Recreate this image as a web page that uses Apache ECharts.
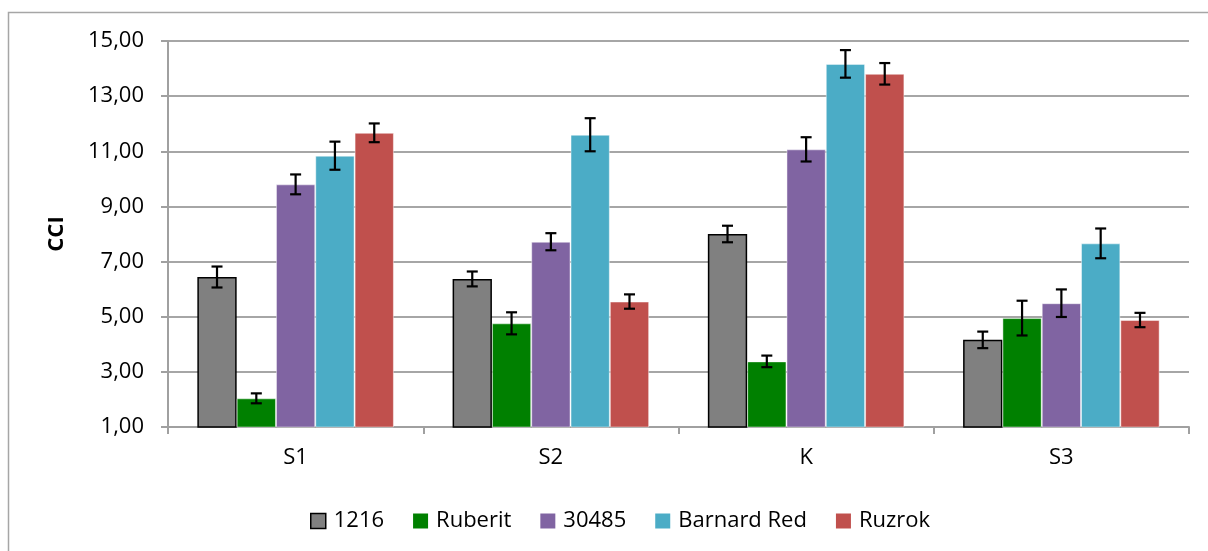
<!DOCTYPE html>
<html>
<head>
<meta charset="utf-8">
<script src="https://cdn.jsdelivr.net/npm/echarts@6/dist/echarts.min.js"></script>
<style>html,body{margin:0;padding:0;background:#fff}#c{width:1208px;height:551px}</style>
</head>
<body>
<div id="c"></div>
<script>
const categories = ['S1', 'S2', 'K', 'S3'];
const seriesNames = ['1216', 'Ruberit', '30485', 'Barnard Red', 'Ruzrok'];
const v1216 = [6.44, 6.37, 8.00, 4.16];
const vRuberit = [2.04, 4.76, 3.38, 4.95];
const v30485 = [9.80, 7.72, 11.07, 5.49];
const vBarnard = [10.84, 11.60, 14.17, 7.66];
const vRuzrok = [11.67, 5.55, 13.81, 4.88];
const e1216 = [0.38, 0.27, 0.30, 0.30];
const eRuberit = [0.18, 0.40, 0.21, 0.63];
const e30485 = [0.36, 0.31, 0.44, 0.50];
const eBarnard = [0.51, 0.60, 0.50, 0.54];
const eRuzrok = [0.34, 0.26, 0.39, 0.26];
const yTicks = [1, 3, 5, 7, 9, 11, 13, 15];

const values = [v1216, vRuberit, v30485, vBarnard, vRuzrok];
const errors = [e1216, eRuberit, e30485, eBarnard, eRuzrok];
const colors = ['#808080', '#008000', '#8064A2', '#4BACC6', '#C0504D'];
const gapFrac = 0.23;
const FONT = 'Open Sans';
const FS = 22;

const chart = echarts.init(document.getElementById('c'), null, {renderer: 'canvas'});

const series = [];
seriesNames.forEach((name, i) => {
  series.push({
    name: name,
    type: 'bar',
    data: values[i],
    barGap: '0%',
    barCategoryGap: (gapFrac * 100) + '%',
    itemStyle: i === 0
      ? {color: colors[i], borderColor: '#000', borderWidth: 1.5}
      : {color: colors[i], borderColor: 'rgba(255,255,255,0.45)', borderWidth: 1},
    emphasis: {disabled: true},
    z: 2
  });
});
seriesNames.forEach((name, i) => {
  const data = values[i].map((v, k) => [k, v, errors[i][k]]);
  series.push({
    type: 'custom',
    name: name + ' err',
    data: data,
    z: 5,
    silent: true,
    renderItem: function (params, api) {
      const k = api.value(0), v = api.value(1), e = api.value(2);
      const band = api.size([1, 0])[0];
      const bw = band * (1 - gapFrac) / 5;
      const off = (i - 2) * bw;
      const top = api.coord([k, v + e]);
      const bot = api.coord([k, v - e]);
      const x = top[0] + off;
      const cap = 5.5;
      const st = {stroke: '#000', lineWidth: 2.2};
      return {
        type: 'group',
        children: [
          {type: 'line', shape: {x1: x, y1: top[1], x2: x, y2: bot[1]}, style: st},
          {type: 'line', shape: {x1: x - cap, y1: top[1], x2: x + cap, y2: top[1]}, style: st},
          {type: 'line', shape: {x1: x - cap, y1: bot[1], x2: x + cap, y2: bot[1]}, style: st}
        ]
      };
    }
  });
});

chart.setOption({
  animation: false,
  backgroundColor: '#fff',
  textStyle: {fontFamily: FONT},
  graphic: [{
    type: 'rect',
    shape: {x: 8.5, y: 12.5, width: 1400, height: 800},
    style: {fill: 'none', stroke: '#A6A6A6', lineWidth: 1.5},
    silent: true
  }],
  grid: {left: 168, right: 19, top: 41, bottom: 124, containLabel: false},
  legend: {
    data: seriesNames.map((n, i) => ({
      name: n,
      itemStyle: i === 0 ? {color: colors[0], borderColor: '#000', borderWidth: 1.5} : {color: colors[i], borderWidth: 0}
    })),
    left: 305,
    top: 505,
    itemWidth: 15,
    itemHeight: 15,
    itemGap: 29,
    icon: 'rect',
    textStyle: {fontFamily: FONT, fontSize: FS, color: '#000', padding: [0, 0, 0, 3]}
  },
  xAxis: {
    type: 'category',
    data: categories,
    axisLine: {lineStyle: {color: '#A0A0A0', width: 2}},
    axisTick: {show: true, length: 7, lineStyle: {color: '#A0A0A0', width: 2}},
    axisLabel: {fontFamily: FONT, fontSize: FS, color: '#000', margin: 20}
  },
  yAxis: {
    type: 'value',
    min: yTicks[0],
    max: yTicks[yTicks.length - 1],
    interval: 2,
    name: 'CCI',
    nameLocation: 'middle',
    nameGap: 100,
    nameRotate: 90,
    nameTextStyle: {fontFamily: FONT, fontSize: FS, fontWeight: 'bold', color: '#000'},
    axisLine: {show: true, lineStyle: {color: '#A0A0A0', width: 2}},
    axisTick: {show: true, length: 7, lineStyle: {color: '#A0A0A0', width: 2}},
    axisLabel: {
      fontFamily: FONT, fontSize: FS, color: '#000', margin: 24,
      formatter: v => v.toFixed(2).replace('.', ',')
    },
    splitLine: {lineStyle: {color: '#A6A6A6', width: 2}}
  },
  series: series
});
</script>
</body>
</html>
